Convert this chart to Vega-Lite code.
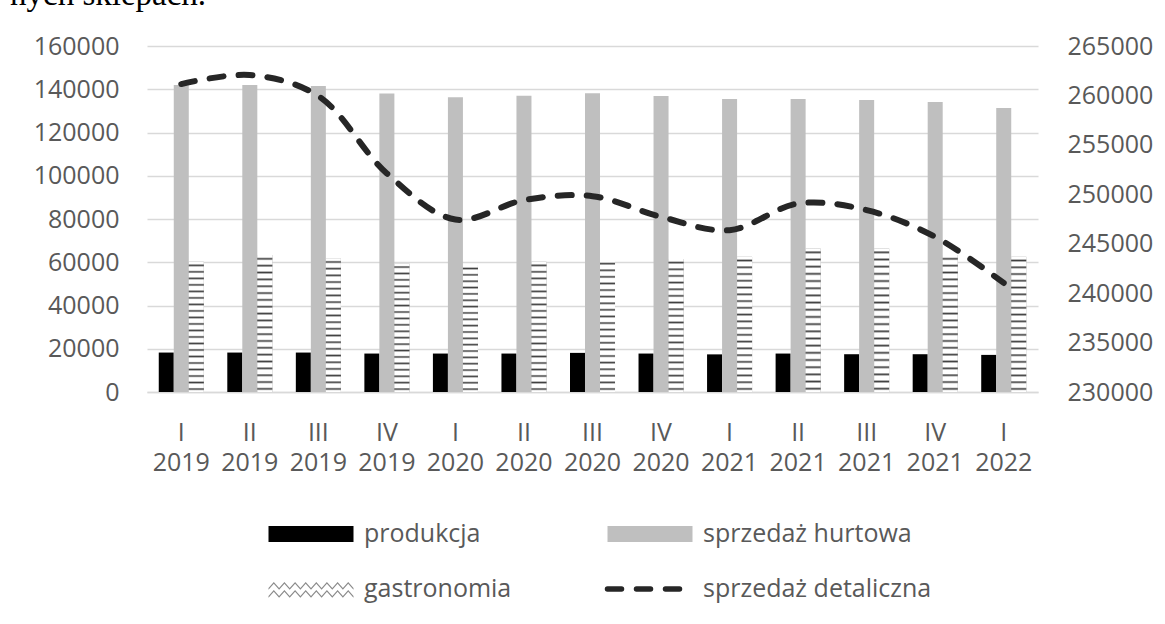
{
  "$schema": "https://vega.github.io/schema/vega-lite/v6.json",
  "width": 891,
  "height": 346,
  "autosize": "none",
  "padding": {"left": 147, "top": 46, "right": 127, "bottom": 232},
  "background": "white",
  "title": {
    "text": "nych sklepach.",
    "anchor": "start",
    "frame": "group",
    "font": "Liberation Serif",
    "fontSize": 33,
    "fontWeight": "normal",
    "color": "#000000",
    "baseline": "alphabetic",
    "dx": -137,
    "offset": -4
  },
  "config": {
    "view": {"stroke": null},
    "font": "Open Sans",
    "axis": {
      "labelFont": "Open Sans",
      "labelFontSize": 25,
      "labelColor": "#595959",
      "ticks": false
    },
    "axisX": {
      "domainColor": "#d9d9d9",
      "domainWidth": 1.5,
      "labelAngle": 0,
      "labelPadding": 28,
      "labelLineHeight": 30,
      "labelBaseline": "top",
      "grid": false
    }
  },
  "datasets": {
    "bars": [
      {"q": "I 2019", "s": "produkcja", "v": 18240},
      {"q": "I 2019", "s": "sprzedaż hurtowa", "v": 142000},
      {"q": "I 2019", "s": "gastronomia", "v": 60200},
      {"q": "II 2019", "s": "produkcja", "v": 18240},
      {"q": "II 2019", "s": "sprzedaż hurtowa", "v": 142000},
      {"q": "II 2019", "s": "gastronomia", "v": 63300},
      {"q": "III 2019", "s": "produkcja", "v": 18240},
      {"q": "III 2019", "s": "sprzedaż hurtowa", "v": 141500},
      {"q": "III 2019", "s": "gastronomia", "v": 61800},
      {"q": "IV 2019", "s": "produkcja", "v": 17780},
      {"q": "IV 2019", "s": "sprzedaż hurtowa", "v": 138000},
      {"q": "IV 2019", "s": "gastronomia", "v": 59400},
      {"q": "I 2020", "s": "produkcja", "v": 17780},
      {"q": "I 2020", "s": "sprzedaż hurtowa", "v": 136300},
      {"q": "I 2020", "s": "gastronomia", "v": 58700},
      {"q": "II 2020", "s": "produkcja", "v": 17780},
      {"q": "II 2020", "s": "sprzedaż hurtowa", "v": 137000},
      {"q": "II 2020", "s": "gastronomia", "v": 60200},
      {"q": "III 2020", "s": "produkcja", "v": 18090},
      {"q": "III 2020", "s": "sprzedaż hurtowa", "v": 138100},
      {"q": "III 2020", "s": "gastronomia", "v": 61000},
      {"q": "IV 2020", "s": "produkcja", "v": 17780},
      {"q": "IV 2020", "s": "sprzedaż hurtowa", "v": 136900},
      {"q": "IV 2020", "s": "gastronomia", "v": 61500},
      {"q": "I 2021", "s": "produkcja", "v": 17400},
      {"q": "I 2021", "s": "sprzedaż hurtowa", "v": 135500},
      {"q": "I 2021", "s": "gastronomia", "v": 62500},
      {"q": "II 2021", "s": "produkcja", "v": 17780},
      {"q": "II 2021", "s": "sprzedaż hurtowa", "v": 135500},
      {"q": "II 2021", "s": "gastronomia", "v": 66400},
      {"q": "III 2021", "s": "produkcja", "v": 17470},
      {"q": "III 2021", "s": "sprzedaż hurtowa", "v": 135000},
      {"q": "III 2021", "s": "gastronomia", "v": 66400},
      {"q": "IV 2021", "s": "produkcja", "v": 17470},
      {"q": "IV 2021", "s": "sprzedaż hurtowa", "v": 134100},
      {"q": "IV 2021", "s": "gastronomia", "v": 63300},
      {"q": "I 2022", "s": "produkcja", "v": 17160},
      {"q": "I 2022", "s": "sprzedaż hurtowa", "v": 131300},
      {"q": "I 2022", "s": "gastronomia", "v": 62500}
    ],
    "line": [
      {"q": "I 2019", "s": "sprzedaż detaliczna", "v": 261150},
      {"q": "II 2019", "s": "sprzedaż detaliczna", "v": 262060},
      {"q": "III 2019", "s": "sprzedaż detaliczna", "v": 259940},
      {"q": "IV 2019", "s": "sprzedaż detaliczna", "v": 252110},
      {"q": "I 2020", "s": "sprzedaż detaliczna", "v": 247450},
      {"q": "II 2020", "s": "sprzedaż detaliczna", "v": 249410},
      {"q": "III 2020", "s": "sprzedaż detaliczna", "v": 249810},
      {"q": "IV 2020", "s": "sprzedaż detaliczna", "v": 247720},
      {"q": "I 2021", "s": "sprzedaż detaliczna", "v": 246370},
      {"q": "II 2021", "s": "sprzedaż detaliczna", "v": 249070},
      {"q": "III 2021", "s": "sprzedaż detaliczna", "v": 248400},
      {"q": "IV 2021", "s": "sprzedaż detaliczna", "v": 245690},
      {"q": "I 2022", "s": "sprzedaż detaliczna", "v": 241030}
    ]
  },
  "layer": [
    {
      "data": {"name": "bars"},
      "mark": {"type": "bar"},
      "encoding": {
        "x": {
          "field": "q", "type": "nominal", "sort": null, "title": null,
          "scale": {"paddingInner": 0.343, "paddingOuter": 0.1715},
          "axis": {"labelExpr": "split(datum.value, ' ')"}
        },
        "xOffset": {
          "field": "s", "type": "nominal",
          "scale": {"domain": ["produkcja", "sprzedaż hurtowa", "gastronomia"], "paddingInner": 0, "paddingOuter": 0}
        },
        "y": {
          "field": "v", "type": "quantitative", "title": null,
          "scale": {"domain": [0, 160000], "nice": false},
          "axis": {
            "values": [0, 20000, 40000, 60000, 80000, 100000, 120000, 140000, 160000],
            "format": "d", "domain": false, "ticks": false, "grid": true,
            "gridColor": "#d9d9d9", "gridWidth": 1.5, "labelPadding": 28
          }
        },
        "color": {
          "field": "s", "type": "nominal",
          "scale": {
            "domain": ["produkcja", "sprzedaż hurtowa", "gastronomia", "sprzedaż detaliczna"],
            "range": ["#000000", "#bfbfbf", "#8a8a8a", "#262626"]
          },
          "legend": {
            "orient": "none",
            "legendX": 151,
            "legendY": 475,
            "direction": "horizontal",
            "columns": 2,
            "title": null,
            "labelFont": "Open Sans",
            "labelFontSize": 25,
            "labelColor": "#595959",
            "labelOffset": 40,
            "labelLimit": 400,
            "columnPadding": 84,
            "rowPadding": 29,
            "symbolSize": 400,
            "symbolStrokeWidth": 5.5,
            "encode": {
              "symbols": {
                "update": {
                  "shape": [
                    {"test": "datum.value === 'sprzedaż detaliczna'", "value": "M-4.25,0H4.25"},
                    {"test": "datum.value === 'gastronomia'", "value": "M-4.25,-0.1L-3.72,-0.7L-3.19,-0.1L-2.66,-0.7L-2.13,-0.1L-1.59,-0.7L-1.06,-0.1L-0.53,-0.7L0,-0.1L0.53,-0.7L1.06,-0.1L1.59,-0.7L2.13,-0.1L2.66,-0.7L3.19,-0.1L3.72,-0.7L4.25,-0.1L4.25,0.08L3.72,-0.52L3.19,0.08L2.66,-0.52L2.13,0.08L1.59,-0.52L1.06,0.08L0.53,-0.52L0,0.08L-0.53,-0.52L-1.06,0.08L-1.59,-0.52L-2.13,0.08L-2.66,-0.52L-3.19,0.08L-3.72,-0.52L-4.25,0.08ZM-4.25,0.7L-3.72,0.1L-3.19,0.7L-2.66,0.1L-2.13,0.7L-1.59,0.1L-1.06,0.7L-0.53,0.1L0,0.7L0.53,0.1L1.06,0.7L1.59,0.1L2.13,0.7L2.66,0.1L3.19,0.7L3.72,0.1L4.25,0.7L4.25,0.88L3.72,0.28L3.19,0.88L2.66,0.28L2.13,0.88L1.59,0.28L1.06,0.88L0.53,0.28L0,0.88L-0.53,0.28L-1.06,0.88L-1.59,0.28L-2.13,0.88L-2.66,0.28L-3.19,0.88L-3.72,0.28L-4.25,0.88Z"},
                    {"value": "M-4.25,-0.8H4.25V0.8H-4.25Z"}
                  ],
                  "stroke": [
                    {"test": "datum.value === 'sprzedaż detaliczna'", "value": "#262626"},
                    {"value": "transparent"}
                  ],
                  "strokeOpacity": [
                    {"test": "datum.value === 'sprzedaż detaliczna'", "value": 1},
                    {"value": 0}
                  ],
                  "strokeWidth": {"value": 5.5},
                  "strokeDash": [
                    {"test": "datum.value === 'sprzedaż detaliczna'", "value": [14, 15]},
                    {"value": []}
                  ],
                  "strokeCap": {"value": "round"},
                  "opacity": {"value": 1}
                }
              }
            }
          }
        }
      }
    },
    {
      "data": {"name": "bars"},
      "transform": [{"filter": "datum.s === 'gastronomia'"}],
      "mark": {
        "type": "bar",
        "fill": {
          "gradient": "linear", "x1": 0, "y1": 0, "x2": 0, "y2": 1,
          "stops": [
            {"offset": 0.015, "color": "#ffffff"}, {"offset": 0.027, "color": "#404040"}, {"offset": 0.04, "color": "#ffffff"},
            {"offset": 0.065, "color": "#ffffff"}, {"offset": 0.077, "color": "#404040"}, {"offset": 0.09, "color": "#ffffff"},
            {"offset": 0.115, "color": "#ffffff"}, {"offset": 0.127, "color": "#404040"}, {"offset": 0.14, "color": "#ffffff"},
            {"offset": 0.165, "color": "#ffffff"}, {"offset": 0.177, "color": "#404040"}, {"offset": 0.19, "color": "#ffffff"},
            {"offset": 0.215, "color": "#ffffff"}, {"offset": 0.227, "color": "#404040"}, {"offset": 0.24, "color": "#ffffff"},
            {"offset": 0.265, "color": "#ffffff"}, {"offset": 0.277, "color": "#404040"}, {"offset": 0.29, "color": "#ffffff"},
            {"offset": 0.315, "color": "#ffffff"}, {"offset": 0.327, "color": "#404040"}, {"offset": 0.34, "color": "#ffffff"},
            {"offset": 0.365, "color": "#ffffff"}, {"offset": 0.377, "color": "#404040"}, {"offset": 0.39, "color": "#ffffff"},
            {"offset": 0.415, "color": "#ffffff"}, {"offset": 0.427, "color": "#404040"}, {"offset": 0.44, "color": "#ffffff"},
            {"offset": 0.465, "color": "#ffffff"}, {"offset": 0.477, "color": "#404040"}, {"offset": 0.49, "color": "#ffffff"},
            {"offset": 0.515, "color": "#ffffff"}, {"offset": 0.527, "color": "#404040"}, {"offset": 0.54, "color": "#ffffff"},
            {"offset": 0.565, "color": "#ffffff"}, {"offset": 0.577, "color": "#404040"}, {"offset": 0.59, "color": "#ffffff"},
            {"offset": 0.615, "color": "#ffffff"}, {"offset": 0.627, "color": "#404040"}, {"offset": 0.64, "color": "#ffffff"},
            {"offset": 0.665, "color": "#ffffff"}, {"offset": 0.677, "color": "#404040"}, {"offset": 0.69, "color": "#ffffff"},
            {"offset": 0.715, "color": "#ffffff"}, {"offset": 0.727, "color": "#404040"}, {"offset": 0.74, "color": "#ffffff"},
            {"offset": 0.765, "color": "#ffffff"}, {"offset": 0.777, "color": "#404040"}, {"offset": 0.79, "color": "#ffffff"},
            {"offset": 0.815, "color": "#ffffff"}, {"offset": 0.827, "color": "#404040"}, {"offset": 0.84, "color": "#ffffff"},
            {"offset": 0.865, "color": "#ffffff"}, {"offset": 0.877, "color": "#404040"}, {"offset": 0.89, "color": "#ffffff"},
            {"offset": 0.915, "color": "#ffffff"}, {"offset": 0.927, "color": "#404040"}, {"offset": 0.94, "color": "#ffffff"},
            {"offset": 0.965, "color": "#ffffff"}, {"offset": 0.977, "color": "#404040"}, {"offset": 0.99, "color": "#ffffff"}
          ]
        }
      },
      "encoding": {
        "x": {"field": "q", "type": "nominal", "sort": null, "title": null},
        "xOffset": {
          "field": "s", "type": "nominal",
          "scale": {"domain": ["produkcja", "sprzedaż hurtowa", "gastronomia"], "paddingInner": 0, "paddingOuter": 0}
        },
        "y": {
          "field": "v", "type": "quantitative", "title": null,
          "scale": {"domain": [0, 160000], "nice": false},
          "axis": null
        }
      }
    },
    {
      "data": {"name": "line"},
      "mark": {"type": "line", "interpolate": "catmull-rom", "strokeWidth": 6, "strokeDash": [14, 15], "strokeCap": "round"},
      "encoding": {
        "x": {"field": "q", "type": "nominal", "sort": null, "title": null},
        "y": {
          "field": "v", "type": "quantitative", "title": null,
          "scale": {"domain": [230000, 265000], "nice": false, "zero": false},
          "axis": {
            "orient": "right",
            "values": [230000, 235000, 240000, 245000, 250000, 255000, 260000, 265000],
            "format": "d", "domain": false, "ticks": false, "grid": false, "labelPadding": 29
          }
        },
        "color": {"field": "s", "type": "nominal"}
      }
    }
  ],
  "resolve": {"scale": {"y": "independent"}}
}
